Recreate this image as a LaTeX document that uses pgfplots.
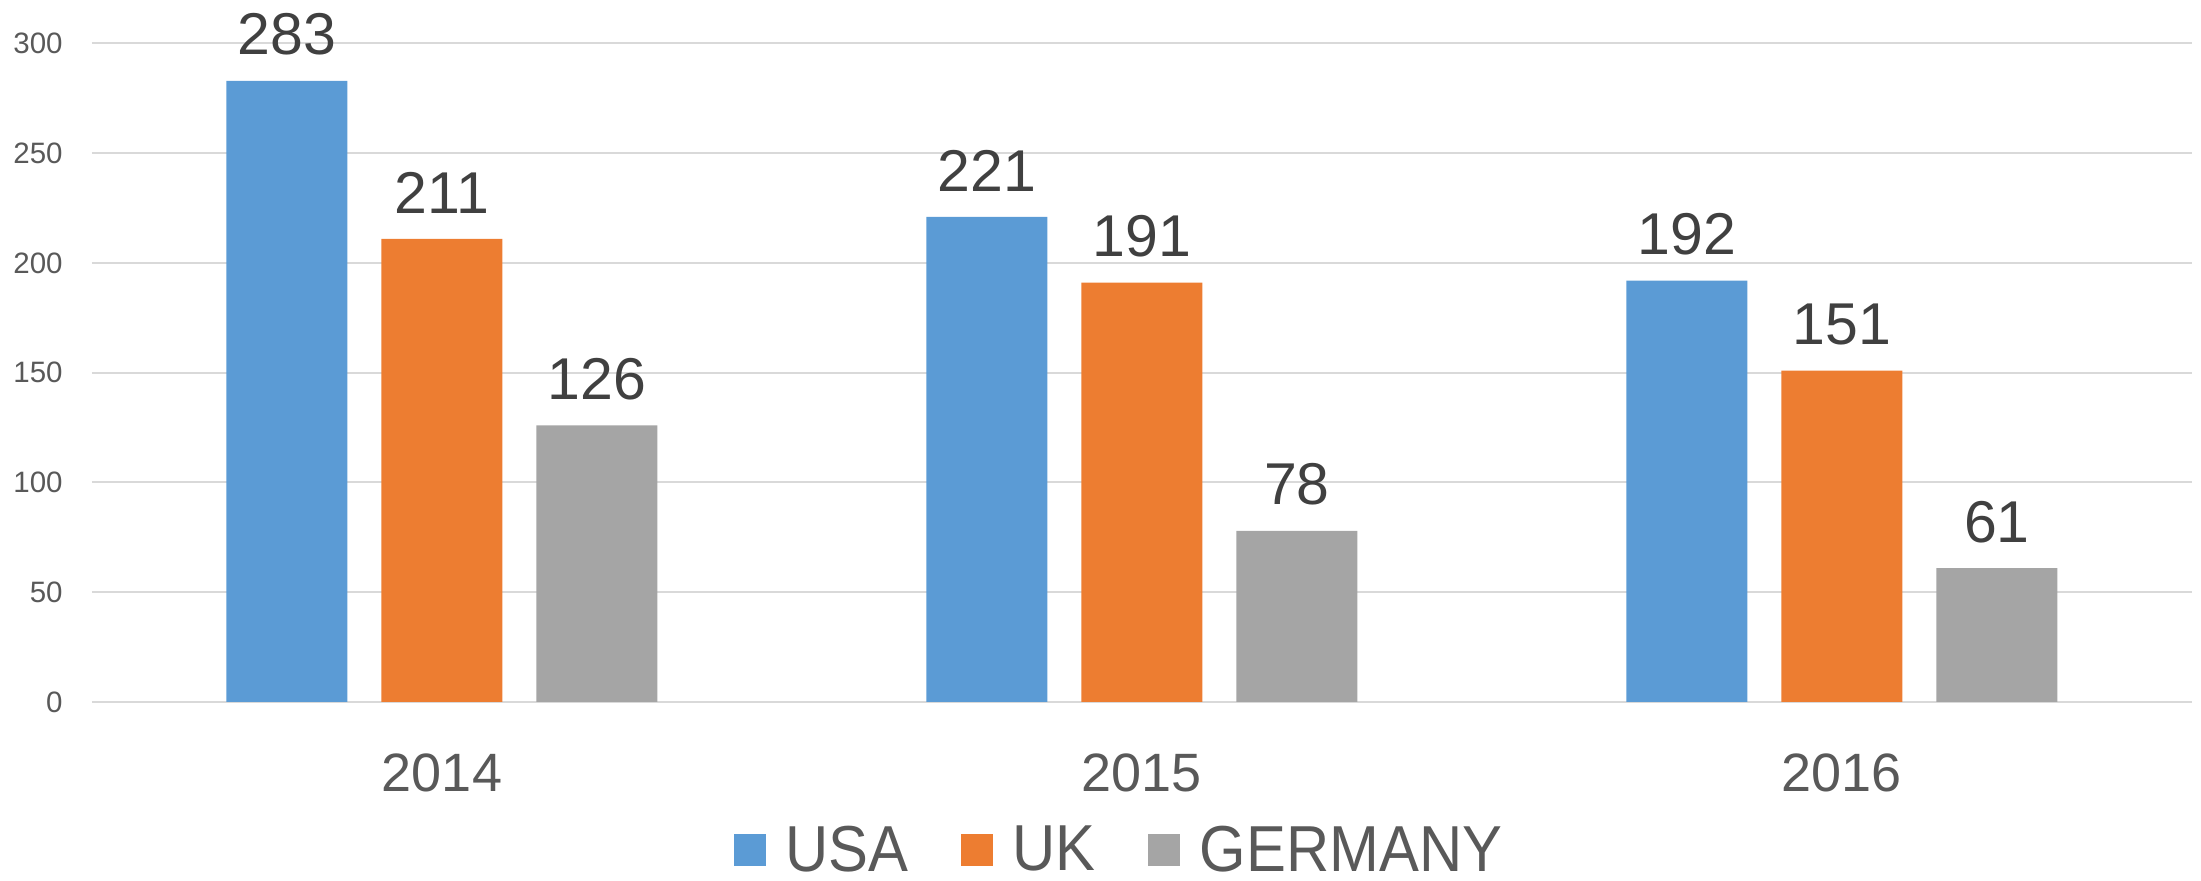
\documentclass[border=0pt]{standalone}
\usepackage{pgfplots}
\pgfplotsset{compat=1.18}
\usepackage{fontspec}
\setmainfont{Liberation Sans}
\newfontfamily\narrowfont[FakeStretch=0.92]{Liberation Sans}

\definecolor{usa}{HTML}{5B9BD5}
\definecolor{uk}{HTML}{ED7D31}
\definecolor{ger}{HTML}{A5A5A5}
\definecolor{lbl}{HTML}{404040}
\definecolor{tck}{HTML}{595959}
\definecolor{grd}{HTML}{D9D9D9}

\begin{document}
\begin{tikzpicture}
\useasboundingbox (0,0) rectangle (1100.5pt,440.5pt);
\begin{axis}[
    at={(46pt,89.5pt)}, anchor=south west,
    scale only axis, width=1050pt, height=329.25pt,
    ybar=17pt, bar width=60.5pt,
    xmin=-0.5, xmax=2.5, ymin=0, ymax=300,
    enlargelimits=false,
    xtick={0,1,2}, xticklabels={2014,2015,2016},
    ytick={0,50,...,300},
    ymajorgrids, major grid style={grd, line width=1pt},
    axis line style={draw=none}, tick style={draw=none},
    /pgf/number format/assume math mode=true,
    yticklabel style={font=\fontsize{14.75}{17}\selectfont, text=tck, anchor=east, inner sep=0pt, xshift=-14.5pt},
    xticklabel style={font=\fontsize{27}{31}\selectfont, text=tck, anchor=north, inner sep=0pt, yshift=-21.5pt},
    nodes near coords,
    nodes near coords style={font=\fontsize{29.5}{33}\selectfont, text=lbl, anchor=south, inner sep=0pt, yshift=12.5pt},
    legend style={at={(0.4895,-0.2245)}, anchor=center, draw=none, fill=none,
        font=\narrowfont\fontsize{32.5}{37}\selectfont, text=tck, legend columns=-1,
        /tikz/every even column/.append style={column sep=24pt}},
    legend image code/.code={\fill[#1, draw=none] (0pt,-8pt) rectangle (16pt,8pt); \path (24pt,0pt);},
]
\addplot[fill=usa, draw=none] coordinates {(0,283) (1,221) (2,192)};
\addplot[fill=uk, draw=none] coordinates {(0,211) (1,191) (2,151)};
\addplot[fill=ger, draw=none] coordinates {(0,126) (1,78) (2,61)};
\legend{USA, UK, GERMANY}
\end{axis}
\end{tikzpicture}
\end{document}
